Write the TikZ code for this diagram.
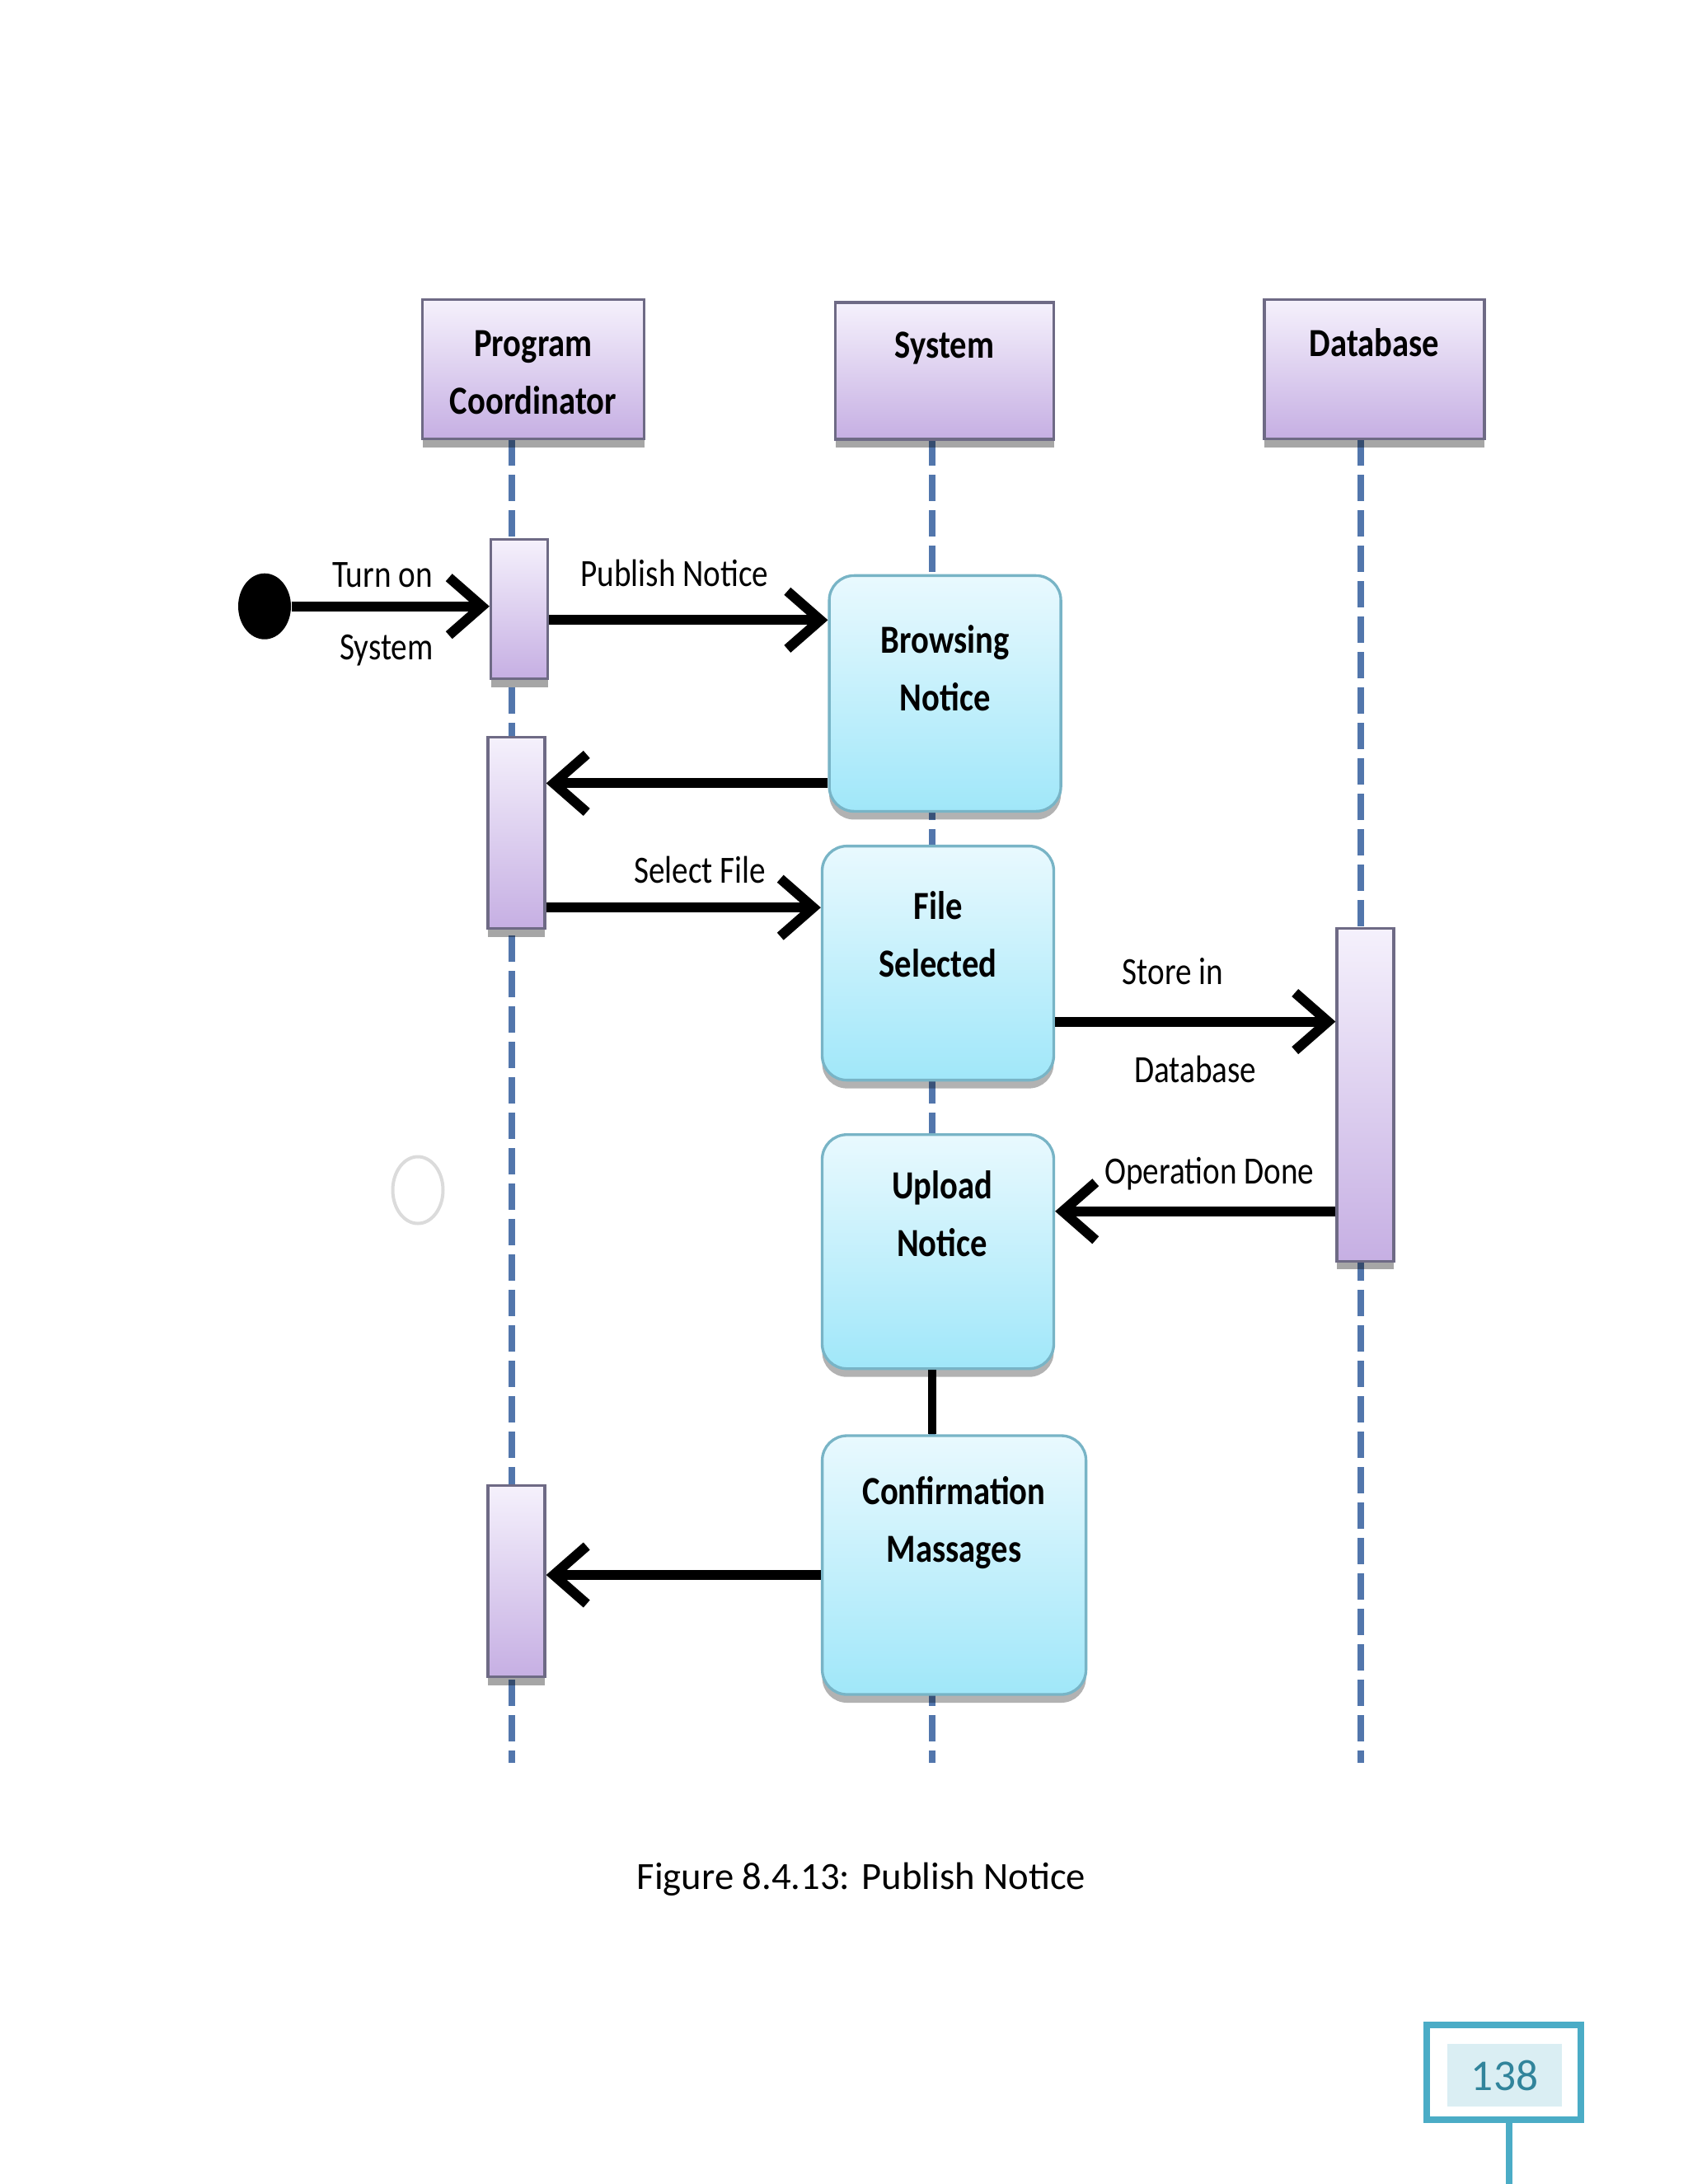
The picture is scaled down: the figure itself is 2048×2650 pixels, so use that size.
\documentclass[tikz,border=0pt]{standalone}
\usepackage{fontspec}
\setmainfont{Carlito}
\newfontfamily\narrowfont[FakeStretch=0.84]{Carlito}
\usetikzlibrary{arrows.meta,shapes.geometric,shadows}

\definecolor{headtop}{HTML}{F5F1FC}
\definecolor{headbot}{HTML}{C6AFE3}
\definecolor{headline}{HTML}{6E6A85}
\definecolor{statetop}{HTML}{E9F9FE}
\definecolor{statebot}{HTML}{A0E7F9}
\definecolor{stateline}{HTML}{78B4C6}
\definecolor{lifeblue}{HTML}{5276AC}
\definecolor{pgline}{HTML}{4BACC6}
\definecolor{pgfill}{HTML}{DAEEF3}
\definecolor{pgtext}{HTML}{31849B}

\tikzset{
  head/.style={draw=headline, line width=1pt, top color=headtop, bottom color=headbot, inner sep=0pt,
    drop shadow={shadow xshift=0pt, shadow yshift=-3pt, fill=black, opacity=.35}},
  bar/.style={head, minimum width=69*0.3pt},
  state/.style={draw=stateline, line width=1pt, rounded corners=9pt, top color=statetop, bottom color=statebot, inner sep=0pt,
    drop shadow={shadow xshift=0pt, shadow yshift=-3pt, fill=black, opacity=.3}},
  boxtxt/.style={font=\narrowfont\fontsize{14.5}{21}\selectfont\bfseries, align=center, inner sep=0pt, anchor=north},
  msg/.style={line width=3.6pt, -{Straight Barb[length=12pt,width=21pt]}},
  lbl/.style={font=\narrowfont\fontsize{14}{16}\selectfont, inner sep=0pt, anchor=base},
  life/.style={lifeblue, line width=2.4pt, dash pattern=on 9.6pt off 3.3pt},
}

\begin{document}
\begin{tikzpicture}[x=0.3pt,y=-0.3pt]
	\useasboundingbox (0,0) rectangle (2048,2650);

	% lifelines
	\foreach \n / \x in {pc/621,sys/1131,db/1650.6} {
		\coordinate (top\n) at (\x,533);
		\coordinate (end\n) at (\x,2139);
		\draw[life] (top\n) -- (end\n);
	}

	% objects
	\node[head, minimum width=269*0.3pt, minimum height=169*0.3pt] (pc) at (647,448) {};
	\node[head, minimum width=265*0.3pt, minimum height=166*0.3pt] (sys) at (1146,450) {};
	\node[head, minimum width=267*0.3pt, minimum height=169*0.3pt] (db) at (1667.5,448) {};
	\node[boxtxt] (pctxt) at ([yshift=-11.5pt]pc.north) {Program\\Coordinator};
	\node[boxtxt] (systxt) at ([yshift=-11pt]sys.north) {System};
	\node[boxtxt] (dbtxt) at ([yshift=-10.8pt]db.north) {Database};

	% activations
	\node[bar, minimum height=169*0.3pt] (a1) at (630,739) {};
	\node[bar, minimum height=232*0.3pt] (a2) at (626.5,1010.5) {};
	\node[bar, minimum height=232*0.3pt] (a3) at (626.5,1918.6) {};
	\node[bar, minimum height=404*0.3pt] (adb) at (1656.5,1328.4) {};

	% states
	\node[state, minimum width=281*0.3pt, minimum height=286*0.3pt] (bn) at (1146.6,841.4) {};
	\node[state, minimum width=281*0.3pt, minimum height=284*0.3pt] (fs) at (1138,1168.6) {};
	\node[state, minimum width=281*0.3pt, minimum height=284*0.3pt] (un) at (1138,1518.7) {};
	\node[state, minimum width=320*0.3pt, minimum height=314*0.3pt] (cm) at (1157.6,1899) {};
	\node[boxtxt] (bntxt) at ([yshift=-18.3pt]bn.north) {Browsing\\Notice};
	\node[boxtxt] (fstxt) at ([yshift=-16.8pt]fs.north) {File\\Selected};
	\node[boxtxt] (untxt) at ([yshift=-13.4pt,xshift=1.5pt]un.north) {Upload\\Notice};
	\node[boxtxt] (cmtxt) at ([yshift=-15pt]cm.north) {Confirmation\\Massages};
	\draw[line width=3pt] (un.south -| topsys) -- (cm.north -| topsys);

	\node[fill=black, ellipse, minimum width=64*0.3pt, minimum height=80*0.3pt, inner sep=0pt] (start) at (321,735.7) {};
	\node[draw=black!14, line width=1.2pt, ellipse, minimum width=61*0.3pt, minimum height=81*0.3pt, inner sep=0pt] (ring) at (507,1444) {};

	% messages
	\draw[msg] (start) -- (start -| a1.west)
		node[lbl, pos=0.46, yshift=7pt] (l1) {Turn on}
		node[lbl, pos=0.48, yshift=-19.3pt] (l2) {System};
	\draw[msg] ([yshift=-4pt]a1.east) -- ([yshift=-4pt]a1.east -| bn.west)
		node[lbl, pos=0.45, yshift=12.2pt] (l3) {Publish Notice};
	\draw[msg] ([yshift=-32.7pt]bn.west) -- ([yshift=-32.7pt]bn.west -| a2.east);
	\draw[msg] ([yshift=-27.2pt]a2.east) -- ([yshift=-27.2pt]a2.east -| fs.west)
		node[lbl, pos=0.56, yshift=8.8pt] (l4) {Select File};
	\draw[msg] ([yshift=-21.3pt]fs.east) -- ([yshift=-21.3pt]fs.east -| adb.west)
		node[lbl, pos=0.42, yshift=13.4pt] (l5) {Store in}
		node[lbl, pos=0.5, yshift=-22.3pt] (l6) {Database};
	\draw[msg] ([yshift=-42.4pt]adb.west) -- ([yshift=-42.4pt]adb.west -| un.east)
		node[lbl, pos=0.45, yshift=10pt] (l7) {Operation Done};
	\draw[msg] ([yshift=-3.6pt]cm.west) -- ([yshift=-3.6pt]cm.west -| a3.east);

	\node[font=\fontsize{14}{16}\selectfont] (caption) at (1045,2280) {Figure 8.4.13: Publish Notice};

	% page number
	\coordinate (pgend) at (1831,2650);
	\node[draw=pgline, line width=2.4pt, minimum width=187*0.3pt, minimum height=115*0.3pt, inner sep=0pt] (pgbox) at (1824.5,2514.5) {};
	\node[fill=pgfill, text=pgtext, minimum width=139*0.3pt, minimum height=76*0.3pt, inner sep=0pt, font=\fontsize{16}{16}\selectfont] (pgnum) at (1825.5,2518) {138};
	\draw[pgline, line width=2.4pt] (pgbox.south -| pgend) -- (pgend);
\end{tikzpicture}
\end{document}
